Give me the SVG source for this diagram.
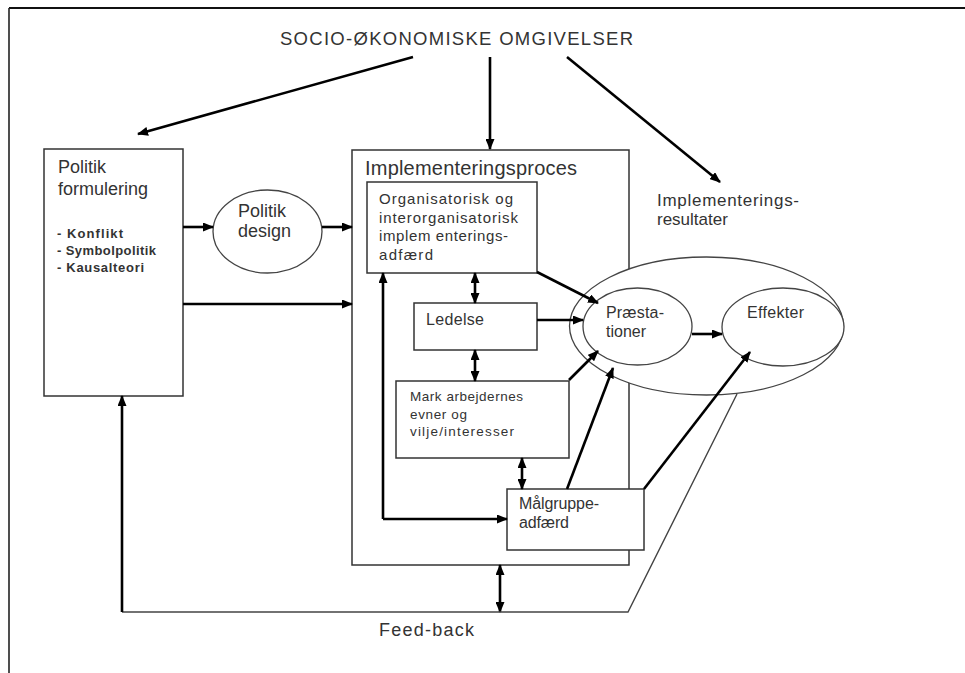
<svg xmlns="http://www.w3.org/2000/svg" width="965" height="673" viewBox="0 0 965 673">
<defs>
<marker id="ah" markerUnits="userSpaceOnUse" markerWidth="11" markerHeight="9" refX="10" refY="4.5" orient="auto-start-reverse">
<path d="M0,0 L11,4.5 L0,9 z" fill="#000"/>
</marker>
</defs>
<style>
text{font-family:"Liberation Sans",Arial,sans-serif;fill:#333}
.box{fill:#fff;stroke:#333;stroke-width:1.5}
.ell{fill:#fff;stroke:#444;stroke-width:1.3}
.th{fill:none;stroke:#000;stroke-width:2.6}
.thin{fill:none;stroke:#444;stroke-width:1.4}
.arr{marker-end:url(#ah)}
.dbl{marker-start:url(#ah);marker-end:url(#ah)}
</style>
<rect width="965" height="673" fill="#fff"/>
<g id="frame">
<path d="M9,8 H965" stroke="#111" stroke-width="2.2" fill="none"/>
<path d="M9,8 V673" stroke="#222" stroke-width="1.6" fill="none"/>
</g>
<g id="title">
<text x="280" y="45" font-size="18.5" textLength="353" lengthAdjust="spacing">SOCIO-ØKONOMISKE OMGIVELSER</text>
</g>
<g id="politik-formulering">
<rect class="box" x="44" y="149" width="139" height="247"/>
<text x="58" y="173" font-size="18">Politik</text>
<text x="58" y="195" font-size="18">formulering</text>
<text x="57" y="238" font-size="13" font-weight="bold" textLength="66" lengthAdjust="spacing">- Konflikt</text>
<text x="57" y="255" font-size="13" font-weight="bold" textLength="99" lengthAdjust="spacing">- Symbolpolitik</text>
<text x="57" y="272" font-size="13" font-weight="bold" textLength="87" lengthAdjust="spacing">- Kausalteori</text>
</g>
<g id="politik-design">
<ellipse class="ell" cx="267.5" cy="231.5" rx="54.5" ry="41.5"/>
<text x="238" y="217" font-size="18">Politik</text>
<text x="238" y="237" font-size="18">design</text>
</g>
<g id="implementeringsproces">
<rect class="box" x="352" y="150" width="277" height="415"/>
<text x="365" y="175" font-size="20" textLength="212" lengthAdjust="spacing">Implementeringsproces</text>
</g>
<g id="organisatorisk">
<rect class="box" x="367" y="182" width="170" height="91"/>
<text x="379" y="204" font-size="15" textLength="134" lengthAdjust="spacing">Organisatorisk og</text>
<text x="379" y="222.5" font-size="15" textLength="139" lengthAdjust="spacing">interorganisatorisk</text>
<text x="379" y="241" font-size="15" textLength="129" lengthAdjust="spacing">implem enterings-</text>
<text x="379" y="259.5" font-size="15" textLength="54" lengthAdjust="spacing">adfærd</text>
</g>
<g id="ledelse">
<rect class="box" x="414" y="303" width="123" height="47"/>
<text x="426" y="325" font-size="16" textLength="58" lengthAdjust="spacing">Ledelse</text>
</g>
<g id="markarbejdernes">
<rect class="box" x="396" y="381" width="173" height="77"/>
<text x="410" y="401" font-size="13.5" textLength="113" lengthAdjust="spacing">Mark arbejdernes</text>
<text x="410" y="419" font-size="13.5" textLength="57" lengthAdjust="spacing">evner og</text>
<text x="410" y="436" font-size="13.5" textLength="104" lengthAdjust="spacing">vilje/interesser</text>
</g>
<g id="maalgruppe">
<rect class="box" x="507" y="489" width="137" height="61"/>
<text x="519" y="509" font-size="16" textLength="80" lengthAdjust="spacing">Målgruppe-</text>
<text x="519" y="528" font-size="16" textLength="50" lengthAdjust="spacing">adfærd</text>
</g>
<g id="implementeringsresultater">
<text x="657" y="206" font-size="17" textLength="142" lengthAdjust="spacing">Implementerings-</text>
<text x="657" y="225" font-size="17">resultater</text>
<ellipse class="ell" cx="706.5" cy="326" rx="137" ry="69"/>
</g>
<g id="praestationer">
<ellipse class="ell" cx="637.5" cy="326.5" rx="54.5" ry="38.5"/>
<text x="606" y="318" font-size="16" textLength="58" lengthAdjust="spacing">Præsta-</text>
<text x="606" y="337" font-size="16">tioner</text>
</g>
<g id="effekter">
<ellipse class="ell" cx="783" cy="327" rx="61" ry="39"/>
<text x="747" y="318" font-size="16" textLength="57" lengthAdjust="spacing">Effekter</text>
</g>
<g id="feedback-label">
<text x="379" y="636" font-size="18" textLength="95" lengthAdjust="spacing">Feed-back</text>
</g>
<g id="connectors">
<path class="th arr" d="M413,57 L138,134"/>
<path class="th arr" d="M490,57 V149" stroke-width="2"/>
<path class="th arr" d="M567,57 L720,182"/>
<path class="th arr" d="M183,227 H213"/>
<path class="th arr" d="M322,227 H352"/>
<path class="th arr" d="M183,304 H352"/>
<path class="th dbl" d="M475,273 V303"/>
<path class="th dbl" d="M475,350 V381"/>
<path class="th dbl" d="M522,458 V489"/>
<path class="th arr" d="M383,519 V273"/>
<path class="th arr" d="M383,519 H507"/>
<path class="th arr" d="M537,272 L598,303"/>
<path class="th arr" d="M537,320 H583"/>
<path class="th arr" d="M569,380 L598,351"/>
<path class="th arr" d="M567,489 L613,368"/>
<path class="th arr" d="M692,334 H722"/>
<path class="th arr" d="M644,489 L750,352"/>
<path class="th dbl" d="M500,565 V612"/>
<path class="thin" d="M122,612 H628 L737,394"/>
<path class="th arr" d="M122,612 V396"/>
</g>
</svg>
